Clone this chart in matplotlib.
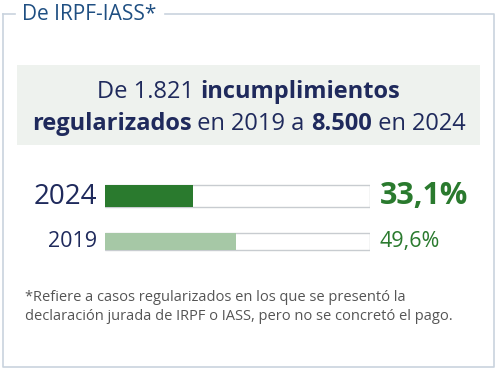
import matplotlib
matplotlib.use("Agg")
import matplotlib.pyplot as plt
from matplotlib.patches import Rectangle

W, H = 497, 371

years = ["2024", "2019"]
shares = [33.1, 49.6]
share_labels = ["33,1%", "49,6%"]
headline_1 = [("De 1.821 ", "normal"), ("incumplimientos", "bold")]
headline_2 = [("regularizados", "bold"), (" en 2019 a ", "normal"),
              ("8.500", "bold"), (" en 2024", "normal")]
title = "De IRPF-IASS*"
footnote = ("*Refiere a casos regularizados en los que se presentó la\n"
            "declaración jurada de IRPF o IASS, pero no se concretó el pago.")

NAVY = "#1f2a5c"
BLUE = "#1f4f82"
GREEN = "#2a7a2e"
LIGHT_GREEN = "#a6c8a6"
GREY = "#555555"
FONT = "Open Sans"

fig = plt.figure(figsize=(W / 100, H / 100), dpi=100)
ax = fig.add_axes([0, 0, 1, 1])
ax.set_xlim(0, W)
ax.set_ylim(H, 0)
ax.axis("off")

# frame with the title cutting the top line
ax.plot([3, 3, 494, 494, 165], [14, 367, 367, 14, 14], color="#c9d3de", lw=1.2)
ax.plot([3, 15], [14, 14], color="#c9d3de", lw=1.2)
ax.text(22, 15, title, color=BLUE, fontsize=15, family=FONT, va="center")

# headline box
ax.add_patch(Rectangle((17, 65), 463, 80, color="#eef2ee", lw=0))


def centered_line(parts, y, size):
    fig.canvas.draw()
    r = fig.canvas.get_renderer()
    texts = [ax.text(0, y, s, fontsize=size, weight=w, color=NAVY,
                     family=FONT, va="center") for s, w in parts]
    widths = [t.get_window_extent(r).width for t in texts]
    x = (W - sum(widths)) / 2
    for t, wd in zip(texts, widths):
        t.set_x(x)
        x += wd


centered_line(headline_1, 92, 17)
centered_line(headline_2, 124, 17)

# progress bars
bx0, bx1 = 105, 370
bax = fig.add_axes([bx0 / W, 1 - 252 / H, (bx1 - bx0) / W, (252 - 183) / H])
bax.set_xlim(0, 100)
bax.set_ylim(252, 183)
bax.axis("off")
rows_y = [196.5, 241.5]
rows_h = [22, 17]
colors = [GREEN, LIGHT_GREEN]
bax.barh(rows_y, [100, 100], height=rows_h, color="white",
         edgecolor="#c8ccd0", lw=1)
bax.barh(rows_y, shares, height=rows_h, color=colors, lw=0)

sizes = [20, 15.5]
lab_sizes = [22, 15.5]
for i in range(len(years)):
    ax.text(97, rows_y[i], years[i], color=NAVY, fontsize=sizes[i],
            family=FONT, ha="right", va="center")
    ax.text(380, rows_y[i], share_labels[i], color=GREEN, fontsize=lab_sizes[i],
            family=FONT, ha="left", va="center",
            weight="bold" if i == 0 else "normal")

ax.text(25, 307, footnote, color=GREY, fontsize=10.5, family=FONT,
        va="center", linespacing=1.35)

fig.savefig("out.png", dpi=100)
